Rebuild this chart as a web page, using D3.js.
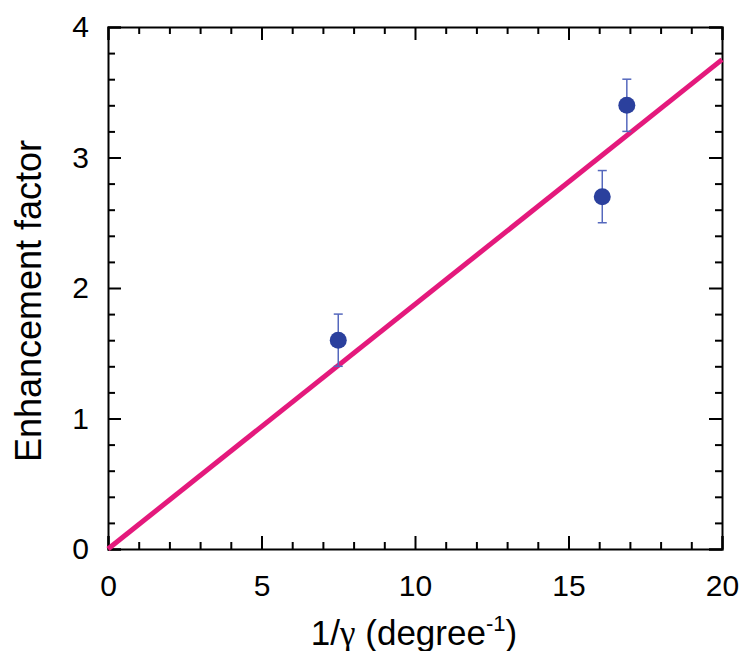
<!DOCTYPE html>
<html>
<head>
<meta charset="utf-8">
<script src="https://cdn.jsdelivr.net/npm/d3@7.9.0/dist/d3.min.js"></script>
<style>
  body { margin: 0; background: #fff; }
  svg { font-family: "Liberation Sans", Arial, sans-serif; }
</style>
</head>
<body>
<svg id="chart" width="740" height="651"></svg>
<script>
// measured points: 1/gamma vs enhancement factor
const xVals = [7.5, 16.1, 16.9];
const yVals = [1.6, 2.7, 3.4];
const yErr = [0.2, 0.2, 0.2];
// fitted line endpoints
const fitX = [0, 20];
const fitY = [0, 3.75];
const xTicks = [0, 5, 10, 15, 20];
const yTicks = [0, 1, 2, 3, 4];

const margin = { top: 27, right: 18, bottom: 102, left: 108 };
const width = 740 - margin.left - margin.right;
const height = 651 - margin.top - margin.bottom;

const svg = d3.select('#chart');
const g = svg.append('g').attr('transform', `translate(${margin.left},${margin.top})`);

let x = d3.scaleLinear().domain([0, 20]).range([0, width]);
let y = d3.scaleLinear().domain([0, 4]).range([height, 0]);

const minorX = d3.range(0, 20.001, 1).filter((d) => d % 5 !== 0);
const minorY = d3.range(0, 4.001, 0.2).map((d) => +d.toFixed(1)).filter((d) => Math.abs(d - Math.round(d)) > 1e-6);

// minor ticks (inward) on all four sides
function minorAxis(axisFn, scale, vals, transform) {
    g.append('g')
        .attr('transform', transform)
        .call(axisFn(scale).tickValues(vals).tickSize(-7).tickFormat(''))
        .call((s) => s.select('.domain').remove());
}
minorAxis(d3.axisBottom, x, minorX, `translate(0,${height})`);
minorAxis(d3.axisTop, x, minorX, 'translate(0,0)');
minorAxis(d3.axisLeft, y, minorY, 'translate(0,0)');
minorAxis(d3.axisRight, y, minorY, `translate(${width},0)`);

// major ticks with labels
g.append('g')
    .attr('transform', `translate(0,${height})`)
    .call(d3.axisBottom(x).tickValues(xTicks).tickSize(-13).tickPadding(26).tickFormat(d3.format('d')))
    .call((s) => s.selectAll('text').attr('font-size', 30).attr('fill', '#000'));
g.append('g')
    .call(d3.axisLeft(y).tickValues(yTicks).tickSize(-13).tickPadding(19).tickFormat(d3.format('d')))
    .call((s) => s.selectAll('text').attr('font-size', 30).attr('fill', '#000'));
g.append('g')
    .call(d3.axisTop(x).tickValues(xTicks).tickSize(-13).tickFormat(''));
g.append('g')
    .attr('transform', `translate(${width},0)`)
    .call(d3.axisRight(y).tickValues(yTicks).tickSize(-13).tickFormat(''));

g.selectAll('.domain').attr('stroke', '#000').attr('stroke-width', 2);
g.selectAll('.tick line').attr('stroke', '#000').attr('stroke-width', 2);

// fitted line
g.append('path')
    .datum(fitX.map((d, i) => [d, fitY[i]]))
    .attr('d', d3.line().x((d) => x(d[0])).y((d) => y(d[1])))
    .attr('fill', 'none')
    .attr('stroke', '#e4197c')
    .attr('stroke-width', 5);

// error bars
const errColor = '#5568bd';
xVals.forEach((xv, i) => {
    const cx = x(xv);
    g.append('line')
        .attr('x1', cx).attr('x2', cx)
        .attr('y1', y(yVals[i] - yErr[i])).attr('y2', y(yVals[i] + yErr[i]))
        .attr('stroke', errColor).attr('stroke-width', 1.5);
    [yVals[i] - yErr[i], yVals[i] + yErr[i]].forEach((v) => {
        g.append('line')
            .attr('x1', cx - 4.5).attr('x2', cx + 4.5)
            .attr('y1', y(v)).attr('y2', y(v))
            .attr('stroke', errColor).attr('stroke-width', 1.5);
    });
});

// points
g.selectAll('circle')
    .data(xVals)
    .join('circle')
    .attr('cx', (d) => x(d))
    .attr('cy', (d, i) => y(yVals[i]))
    .attr('r', 8.5)
    .attr('fill', '#2b409d');

// axis titles
svg.append('text')
    .attr('transform', 'translate(41,301) rotate(-90)')
    .attr('text-anchor', 'middle')
    .attr('font-size', 36)
    .text('Enhancement factor');

const xt = svg.append('text')
    .attr('x', 414)
    .attr('y', 645)
    .attr('text-anchor', 'middle')
    .attr('font-size', 35);
xt.append('tspan').text('1/');
xt.append('tspan').attr('font-family', '"Liberation Serif", serif').text('γ');
xt.append('tspan').text(' (degree');
xt.append('tspan').attr('font-size', 22).attr('dy', -14).text('-1');
xt.append('tspan').attr('dy', 14).text(')');
</script>
</body>
</html>
